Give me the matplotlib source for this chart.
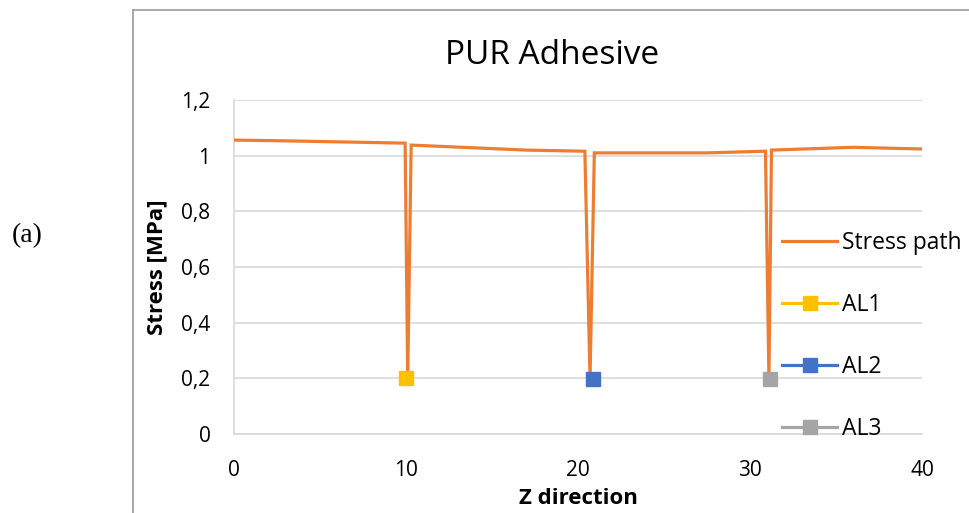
import matplotlib
matplotlib.use("Agg")
import matplotlib.pyplot as plt
from matplotlib.lines import Line2D
from matplotlib.ticker import FuncFormatter

# stress path along the z direction (dips at the adhesive layers)
z_path = [0, 3.2, 9.95, 10.1, 10.3, 17, 20.4, 20.7, 20.95, 27.5, 30.9, 31.1, 31.25, 36, 40]
stress_path = [1.056, 1.053, 1.045, 0.2, 1.038, 1.02, 1.016, 0.2, 1.01, 1.01, 1.016, 0.2, 1.02, 1.03, 1.024]

# adhesive layer points
layer_names = ["AL1", "AL2", "AL3"]
layer_z = [10.0, 20.85, 31.15]
layer_stress = [0.2, 0.198, 0.198]
layer_colors = ["#FFC000", "#4472C4", "#A5A5A5"]

x_ticks = [0, 10, 20, 30, 40]
y_ticks = [0, 0.2, 0.4, 0.6, 0.8, 1.0, 1.2]

plt.rcParams["font.family"] = ["Open Sans", "DejaVu Sans"]

W, H = 969, 513
fig = plt.figure(figsize=(W / 100, H / 100), dpi=100)
ax = fig.add_axes([234 / W, 1 - 434 / H, (922 - 234) / W, (434 - 100) / H])

ax.plot(z_path, stress_path, color="#ED7D31", linewidth=2.3, label="Stress path",
        solid_joinstyle="miter", zorder=3)
for name, zz, ss, c in zip(layer_names, layer_z, layer_stress, layer_colors):
    ax.plot([zz], [ss], color=c, marker="s", markersize=10, linewidth=2.3,
            label=name, zorder=4)

ax.set_xlim(0, 40)
ax.set_ylim(0, 1.2)
ax.set_xticks(x_ticks)
ax.set_yticks(y_ticks)
ax.yaxis.set_major_formatter(FuncFormatter(lambda v, p: ("%g" % round(v, 1)).replace(".", ",")))
ax.tick_params(length=0, labelsize=15, colors="#000000")
ax.tick_params(axis="y", pad=17)
ax.tick_params(axis="x", pad=19)
ax.grid(axis="y", color="#D9D9D9", linewidth=1.2)
ax.set_axisbelow(True)
for side in ["top", "right"]:
    ax.spines[side].set_visible(False)
ax.spines["left"].set_color("#D9D9D9")
ax.spines["bottom"].set_color("#D9D9D9")
ax.spines["left"].set_linewidth(1.2)
ax.spines["bottom"].set_linewidth(1.2)

ax.set_xlabel("Z direction", fontsize=16, fontweight="bold", labelpad=5)
ax.set_ylabel("Stress [MPa]", fontsize=16, fontweight="bold", labelpad=10)

fig.text(552 / W, 1 - 56 / H, "PUR Adhesive", fontsize=24, ha="center", va="center")
fig.text(27 / W, 1 - 236 / H, "(a)", fontsize=20, ha="center", va="center",
         family="Liberation Serif")

ax.legend(loc="center left", bbox_to_anchor=(782 / W, 1 - 336 / H),
          bbox_transform=fig.transFigure, frameon=False, fontsize=16.5,
          handlelength=2.4, handletextpad=0.2, labelspacing=1.65,
          borderpad=0, borderaxespad=0)

# chart area border
fig.add_artist(Line2D([133 / W, 133 / W], [0, 1 - 10 / H], transform=fig.transFigure,
                      color="#999999", linewidth=1.2))
fig.add_artist(Line2D([133 / W, 1], [1 - 10 / H, 1 - 10 / H], transform=fig.transFigure,
                      color="#999999", linewidth=1.2))

fig.savefig("out.png", dpi=100)
